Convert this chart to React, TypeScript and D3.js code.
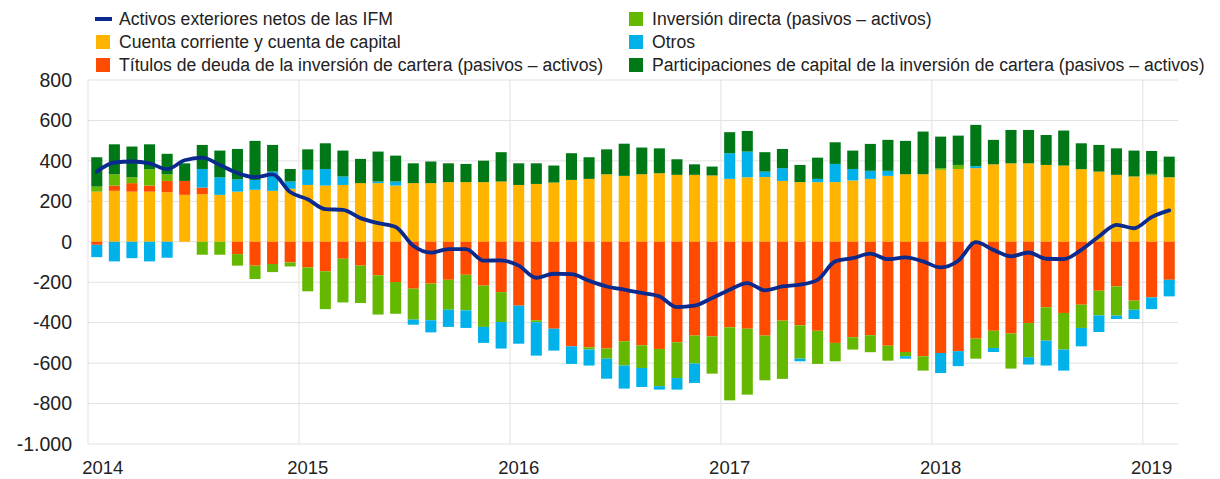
import React from "react";
import * as d3 from "d3";

const W = 1220;
const H = 479;

const yearLabels = ["2014", "2015", "2016", "2017", "2018", "2019"];
const yTicks = [800, 600, 400, 200, 0, -200, -400, -600, -800, -1000];

const cuentaCorriente = [248, 252, 248, 248, 245, 232, 235, 232, 248, 257, 252, 262, 281, 278, 281, 290, 290, 278, 290, 290, 295, 295, 295, 298, 281, 286, 293, 306, 311, 334, 326, 334, 339, 331, 331, 328, 311, 319, 320, 301, 295, 295, 295, 303, 311, 326, 334, 334, 356, 360, 364, 383, 388, 388, 380, 377, 359, 347, 331, 323, 328, 319];
const titulosDeuda = [-15, 26, 42, 30, 56, 69, 33, 0, -61, -118, -110, -102, -127, -146, -84, -118, -166, -199, -232, -207, -188, -163, -217, -249, -316, -388, -430, -517, -522, -528, -492, -512, -530, -497, -464, -468, -423, -430, -464, -390, -413, -440, -500, -472, -462, -514, -545, -566, -550, -541, -479, -440, -454, -402, -324, -352, -311, -242, -221, -291, -275, -188];
const inversionDirecta = [25, 56, 29, 81, 33, 0, -64, -64, -57, -66, -40, -20, -118, -187, -216, -185, -194, -157, -153, -181, -148, -176, -204, -148, 0, -10, 0, 0, -11, -50, -120, -112, -184, -177, -138, -184, -361, -326, -221, -288, -165, -164, -91, -61, -84, -74, -21, -71, 8, 20, -99, -85, -173, -169, -165, -181, -115, -122, -144, -45, 8, 0];
const otros = [-61, -97, -81, -97, -79, 0, 92, 87, 61, 49, 95, 36, 75, 82, 42, 0, 8, 20, -25, -60, -85, -87, -79, -131, -188, -165, -108, -87, -79, -99, -114, -94, -17, -57, -96, 0, 127, 127, 27, 63, -13, 16, 90, 57, 40, 25, -12, 0, -99, -74, 10, -20, 0, -36, -123, -104, -91, -82, -17, -46, -58, -82];
const participaciones = [145, 148, 152, 123, 101, 87, 119, 132, 150, 193, 132, 62, 101, 127, 128, 120, 148, 128, 98, 107, 93, 90, 106, 145, 107, 102, 84, 132, 107, 123, 159, 132, 123, 77, 52, 44, 104, 102, 96, 95, 85, 105, 107, 91, 133, 153, 165, 211, 156, 145, 204, 121, 165, 165, 148, 173, 128, 132, 131, 128, 113, 102];
const activosNetos = [347, 392, 397, 388, 359, 403, 416, 380, 340, 319, 333, 246, 210, 161, 158, 117, 92, 73, -20, -54, -36, -36, -93, -92, -118, -178, -158, -160, -193, -221, -237, -253, -270, -323, -316, -278, -237, -204, -240, -221, -212, -188, -97, -81, -59, -86, -77, -97, -127, -94, -2, -40, -72, -53, -84, -86, -40, 26, 84, 67, 122, 155];

const seriesKeys = ["cuenta", "deuda", "directa", "otros", "particip"];
const seriesColors: Record<string, string> = {
  cuenta: "#FFB400",
  deuda: "#FF4B00",
  directa: "#65B800",
  otros: "#00B1EA",
  particip: "#007816",
};
const lineColor = "#0B2A8E";

const legendItems = [
  { label: "Activos exteriores netos de las IFM", key: "line", col: 0, row: 0 },
  { label: "Cuenta corriente y cuenta de capital", key: "cuenta", col: 0, row: 1 },
  { label: "Títulos de deuda de la inversión de cartera (pasivos – activos)", key: "deuda", col: 0, row: 2 },
  { label: "Inversión directa (pasivos – activos)", key: "directa", col: 1, row: 0 },
  { label: "Otros", key: "otros", col: 1, row: 1 },
  { label: "Participaciones de capital de la inversión de cartera (pasivos – activos)", key: "particip", col: 1, row: 2 },
];

export default function App() {
  const n = cuentaCorriente.length;
  const left = 88;
  const right = 1178;
  const top = 80;
  const bottom = 444;

  const table = d3.range(n).map((i) => ({
    i,
    cuenta: cuentaCorriente[i],
    deuda: titulosDeuda[i],
    directa: inversionDirecta[i],
    otros: otros[i],
    particip: participaciones[i],
  }));

  const x = d3.scaleBand<number>().domain(d3.range(n)).range([left, right]).paddingInner(0.37).paddingOuter(0.185);
  const xm = d3.scaleLinear().domain([0, n]).range([left, right]);
  const y = d3.scaleLinear().domain([-1000, 800]).range([bottom, top]);

  const stack = d3.stack<any>().keys(seriesKeys).offset(d3.stackOffsetDiverging);
  const stacked = stack(table);

  const line = d3
    .line<number>()
    .x((_, i) => xm(i + 0.5))
    .y((d) => y(d))
    .curve(d3.curveMonotoneX);

  const fmt = (v: number) => (v <= -1000 ? "-1.000" : String(v));
  const font = "Liberation Sans, Arial, sans-serif";

  return (
    <svg width={W} height={H} style={{ position: "absolute", left: 0, top: 0, background: "#fff" }} fontFamily={font}>
      {yTicks.map((t) => (
        <line key={"h" + t} x1={left} x2={right} y1={y(t)} y2={y(t)} stroke="#e1e1e1" strokeWidth={1} />
      ))}
      {yearLabels.map((yl, k) => (
        <line key={"v" + yl} x1={xm(k * 12)} x2={xm(k * 12)} y1={top} y2={bottom} stroke="#e1e1e1" strokeWidth={1} />
      ))}
      {stacked.map((s) => (
        <g key={s.key} fill={seriesColors[s.key]}>
          {s.map((d, i) => {
            const y0 = y(d[0]);
            const y1 = y(d[1]);
            const h = Math.abs(y0 - y1);
            if (h < 0.01) return null;
            return <rect key={i} x={x(i)} width={x.bandwidth()} y={Math.min(y0, y1)} height={h} />;
          })}
        </g>
      ))}
      <path d={line(activosNetos) || ""} fill="none" stroke={lineColor} strokeWidth={3.8} strokeLinejoin="round" strokeLinecap="round" />
      {yTicks.map((t) => (
        <text key={"yl" + t} x={72} y={y(t)} dy="0.35em" textAnchor="end" fontSize={19.5} fill="#222">
          {fmt(t)}
        </text>
      ))}
      {yearLabels.map((yl, k) => (
        <text key={"xl" + yl} x={xm(k * 12 + 0.5) + (k === 0 ? 6 : 0)} y={474} textAnchor="middle" fontSize={18.5} fill="#222">
          {yl}
        </text>
      ))}
      {legendItems.map((it) => {
        const lx = it.col === 0 ? 95 : 628;
        const ly = 19 + it.row * 23;
        return (
          <g key={it.key}>
            {it.key === "line" ? (
              <line x1={lx} x2={lx + 17} y1={ly} y2={ly} stroke={lineColor} strokeWidth={4} />
            ) : (
              <rect x={lx + 1} y={ly - 7} width={14} height={14} fill={seriesColors[it.key]} />
            )}
            <text x={lx + 24} y={ly} dy="0.35em" fontSize={17.6} fill="#222">
              {it.label}
            </text>
          </g>
        );
      })}
    </svg>
  );
}
